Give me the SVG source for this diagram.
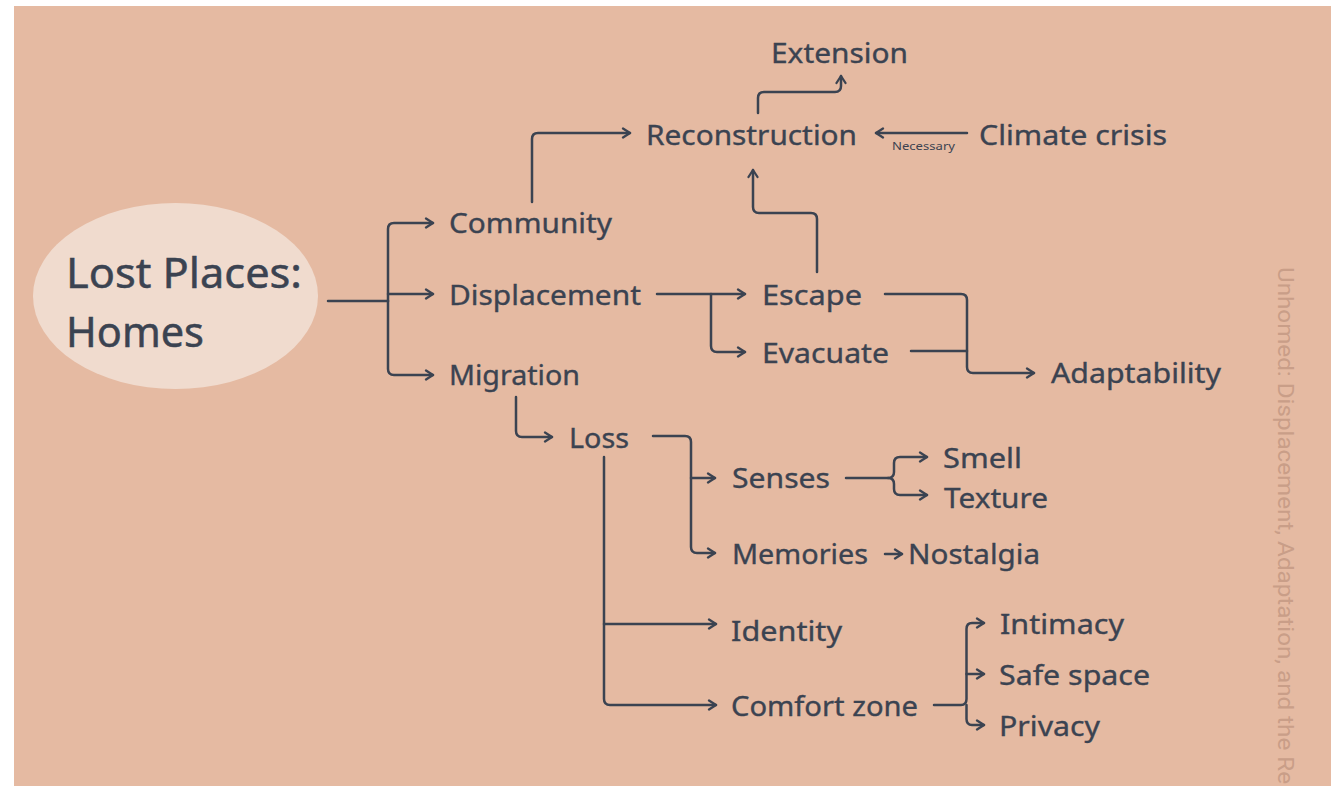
<svg xmlns="http://www.w3.org/2000/svg" width="1331" height="786" viewBox="0 0 1331 786">
<style>
.t{font-family:"Noto Sans","Open Sans",sans-serif;font-size:28px;fill:#3b4351;stroke:#3b4351;stroke-width:0.35;}
.big{font-family:"Noto Sans","Open Sans",sans-serif;font-size:42px;fill:#3b4351;stroke:#3b4351;stroke-width:0.5;}
.sm{font-family:"Noto Sans","Open Sans",sans-serif;font-size:11.5px;fill:#3b4351;}
.v{font-family:Roboto,"Liberation Sans",sans-serif;font-size:22px;fill:#c99e88;}
.c path{fill:none;stroke:#3b4351;stroke-width:2.5;stroke-linecap:round;stroke-linejoin:round;}
</style>
<defs>
<marker id="ah" markerUnits="userSpaceOnUse" markerWidth="12" markerHeight="12" viewBox="-9 -6 12 12" refX="0" refY="0" orient="auto">
<path d="M-7,-4.5 L0,0 L-7,4.5" fill="none" stroke="#3b4351" stroke-width="2.3" stroke-linecap="round" stroke-linejoin="round"/>
</marker>
</defs>
<rect x="0" y="0" width="1331" height="786" fill="#ffffff"/>
<rect x="14" y="6" width="1317" height="780" fill="#e5baa2"/>

<g id="node-root">
<ellipse cx="175.5" cy="296" rx="142.5" ry="93" fill="#f0dbce"/>
<text class="big" x="66" y="288" textLength="236" lengthAdjust="spacingAndGlyphs">Lost Places:</text>
<text class="big" x="66" y="347" textLength="138" lengthAdjust="spacingAndGlyphs">Homes</text>
</g>
<g id="node-extension"><text class="t" x="771" y="63" textLength="137" lengthAdjust="spacingAndGlyphs">Extension</text></g>
<g id="node-reconstruction"><text class="t" x="646" y="145" textLength="211" lengthAdjust="spacingAndGlyphs">Reconstruction</text></g>
<g id="node-climate"><text class="t" x="979" y="145" textLength="188" lengthAdjust="spacingAndGlyphs">Climate crisis</text></g>
<g id="node-community"><text class="t" x="449" y="233" textLength="163" lengthAdjust="spacingAndGlyphs">Community</text></g>
<g id="node-displacement"><text class="t" x="449" y="305" textLength="192" lengthAdjust="spacingAndGlyphs">Displacement</text></g>
<g id="node-migration"><text class="t" x="449" y="385" textLength="131" lengthAdjust="spacingAndGlyphs">Migration</text></g>
<g id="node-escape"><text class="t" x="762" y="305" textLength="100" lengthAdjust="spacingAndGlyphs">Escape</text></g>
<g id="node-evacuate"><text class="t" x="762" y="363" textLength="127" lengthAdjust="spacingAndGlyphs">Evacuate</text></g>
<g id="node-adaptability"><text class="t" x="1051" y="383" textLength="170" lengthAdjust="spacingAndGlyphs">Adaptability</text></g>
<g id="node-loss"><text class="t" x="569" y="448" textLength="60" lengthAdjust="spacingAndGlyphs">Loss</text></g>
<g id="node-senses"><text class="t" x="732" y="488" textLength="98" lengthAdjust="spacingAndGlyphs">Senses</text></g>
<g id="node-smell"><text class="t" x="943" y="468" textLength="79" lengthAdjust="spacingAndGlyphs">Smell</text></g>
<g id="node-texture"><text class="t" x="944" y="508" textLength="104" lengthAdjust="spacingAndGlyphs">Texture</text></g>
<g id="node-memories"><text class="t" x="732" y="564" textLength="136" lengthAdjust="spacingAndGlyphs">Memories</text></g>
<g id="node-nostalgia"><text class="t" x="908" y="564" textLength="132" lengthAdjust="spacingAndGlyphs">Nostalgia</text></g>
<g id="node-identity"><text class="t" x="731" y="641" textLength="111" lengthAdjust="spacingAndGlyphs">Identity</text></g>
<g id="node-comfort"><text class="t" x="731" y="716" textLength="187" lengthAdjust="spacingAndGlyphs">Comfort zone</text></g>
<g id="node-intimacy"><text class="t" x="1000" y="634" textLength="124" lengthAdjust="spacingAndGlyphs">Intimacy</text></g>
<g id="node-safespace"><text class="t" x="999" y="685" textLength="151" lengthAdjust="spacingAndGlyphs">Safe space</text></g>
<g id="node-privacy"><text class="t" x="999" y="736" textLength="101" lengthAdjust="spacingAndGlyphs">Privacy</text></g>

<g id="connectors" class="c">
<path d="M328,301 H388"/>
<path d="M388,301 V229 Q388,223 394,223 H433" marker-end="url(#ah)"/>
<path d="M388,294 H433" marker-end="url(#ah)"/>
<path d="M388,301 V369 Q388,375 394,375 H433" marker-end="url(#ah)"/>
<path d="M532,202 V139 Q532,133 538,133 H630" marker-end="url(#ah)"/>
<path d="M758,113 V98 Q758,92 764,92 H835 Q841,92 841,86 V76" marker-end="url(#ah)"/>
<path d="M967,133 H876" marker-end="url(#ah)"/>
<text class="sm" x="892" y="150" textLength="63" lengthAdjust="spacingAndGlyphs" stroke="none">Necessary</text>
<path d="M817,272 V219 Q817,213 811,213 H759 Q753,213 753,207 V170" marker-end="url(#ah)"/>
<path d="M657,294 H745" marker-end="url(#ah)"/>
<path d="M711,294 V346 Q711,352 717,352 H745" marker-end="url(#ah)"/>
<path d="M885,294 H961 Q967,294 967,300 V367 Q967,373 973,373 H1034" marker-end="url(#ah)"/>
<path d="M911,351 H967"/>
<path d="M516,397 V431 Q516,437 522,437 H552" marker-end="url(#ah)"/>
<path d="M653,436 H685 Q691,436 691,442 V547 Q691,553 697,553 H715" marker-end="url(#ah)"/>
<path d="M691,478 H715" marker-end="url(#ah)"/>
<path d="M846,478 H888 Q894,478 894,472 V463 Q894,457 900,457 H927" marker-end="url(#ah)"/>
<path d="M888,478 Q894,478 894,484 V489 Q894,495 900,495 H927" marker-end="url(#ah)"/>
<path d="M885,554 H902" marker-end="url(#ah)"/>
<path d="M604,457 V699 Q604,705 610,705 H716" marker-end="url(#ah)"/>
<path d="M604,624 H716" marker-end="url(#ah)"/>
<path d="M934,705 H961 Q966.5,705 966.5,699 V629 Q966.5,623 972,623 H984" marker-end="url(#ah)"/>
<path d="M966.5,674 H984" marker-end="url(#ah)"/>
<path d="M966.5,705 V719 Q966.5,725 972,725 H984" marker-end="url(#ah)"/>
</g>

<text class="v" transform="translate(1278,267) rotate(90)" x="0" y="0" textLength="517" lengthAdjust="spacingAndGlyphs">Unhomed: Displacement, Adaptation, and the Re</text>
</svg>
